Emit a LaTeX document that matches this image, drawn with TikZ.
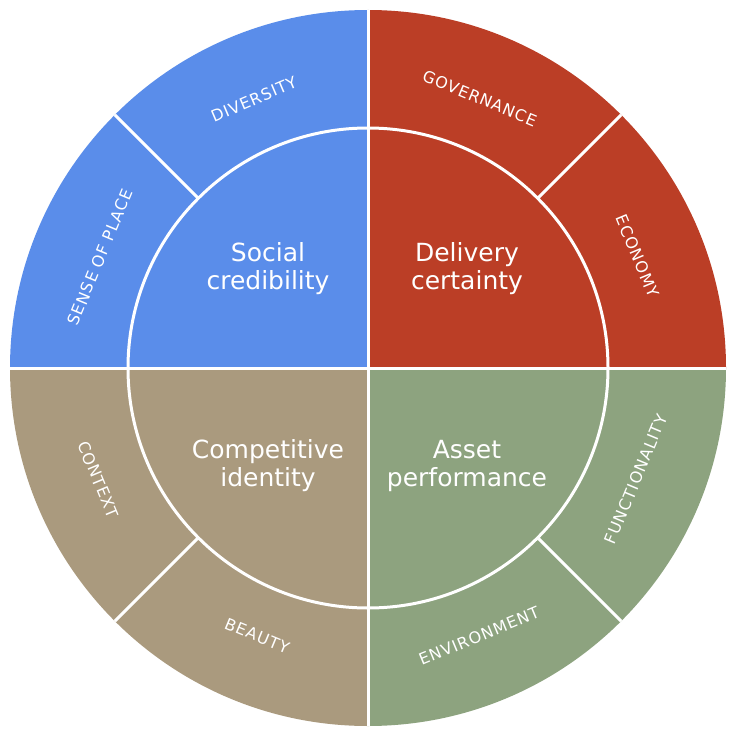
\documentclass[tikz,border=0pt]{standalone}
\usepackage{fontspec}
\setmainfont{DejaVu Sans}
\usetikzlibrary{calc}
\definecolor{cblue}{HTML}{5A8DEA}
\definecolor{cred}{HTML}{BB3E26}
\definecolor{ctan}{HTML}{AA9A7E}
\definecolor{cgreen}{HTML}{8DA37F}
\begin{document}
\begin{tikzpicture}[x=1pt,y=-1pt,
  sep/.style={draw=white,line width=3pt},
  outer/.style={text=white,font=\fontsize{16}{18}\selectfont\addfontfeature{LetterSpace=6},inner sep=0pt},
  inner/.style={text=white,font=\fontsize{25}{28}\selectfont,align=center,inner sep=0pt}]
\useasboundingbox (0,0) rectangle (740,741);
\coordinate (c) at (368,368);
\def\R{358}\def\r{240}
\fill[cred] (c) -- ++(0:\R) arc[start angle=0,end angle=-90,radius=\R] -- cycle;
\fill[cblue] (c) -- ++(-90:\R) arc[start angle=-90,end angle=-180,radius=\R] -- cycle;
\fill[ctan] (c) -- ++(180:\R) arc[start angle=180,end angle=90,radius=\R] -- cycle;
\fill[cgreen] (c) -- ++(90:\R) arc[start angle=90,end angle=0,radius=\R] -- cycle;
\draw[sep] (c) circle[radius=\r];
\draw[sep] (c) ++(0:\R) -- ++(180:{2*\R});
\draw[sep] (c) ++(90:\R) -- ++(-90:{2*\R});
\foreach \a in {45,135,225,315} \draw[sep] (c) ++(\a:\r) -- ++(\a:{\R-\r});
\node[outer,rotate=23] (div) at ($(c)+(-113:292)$) {DIVERSITY};
\node[outer,rotate=67.5] (sop) at ($(c)+(-157.5:290)$) {SENSE OF PLACE};
\node[outer,rotate=-22.5] (gov) at ($(c)+(-67.5:292)$) {GOVERNANCE};
\node[outer,rotate=-67.5] (eco) at ($(c)+(-22.5:292)$) {ECONOMY};
\node[outer,rotate=67.5] (fun) at ($(c)+(22.5:290)$) {FUNCTIONALITY};
\node[outer,rotate=22.5] (env) at ($(c)+(67.5:290)$) {ENVIRONMENT};
\node[outer,rotate=-22.5] (bea) at ($(c)+(112.5:290)$) {BEAUTY};
\node[outer,rotate=-67.5] (ctx) at ($(c)+(157.5:292)$) {CONTEXT};
\node[inner] (sc) at (268,269) {Social\\credibility};
\node[inner] (dc) at (467,269) {Delivery\\certainty};
\node[inner] (ci) at (268,466) {Competitive\\identity};
\node[inner] (ap) at (467,466) {Asset\\performance};
\end{tikzpicture}
\end{document}
